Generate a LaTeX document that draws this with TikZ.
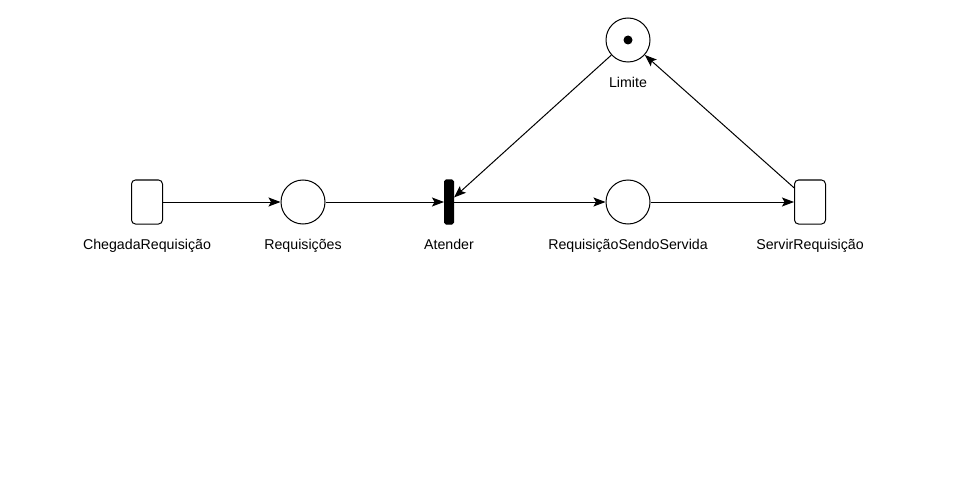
\documentclass[tikz,border=0pt]{standalone}
\usepackage{fontspec}
\setmainfont{Liberation Sans}
\usetikzlibrary{arrows.meta}

\tikzset{
  place/.style={draw, circle, minimum size=44pt, inner sep=0pt},
  trans/.style={draw, rounded corners=4pt, minimum width=31pt, minimum height=44pt, inner sep=0pt},
  bar/.style={draw, fill=black, rounded corners=1.5pt, minimum width=9pt, minimum height=44pt, inner sep=0pt},
  lbl/.style={font=\fontsize{14.2pt}{16pt}\selectfont, anchor=base},
  arc/.style={-{Stealth[length=12pt,width=9pt,inset=2.5pt]}}
}

\begin{document}
\begin{tikzpicture}[x=1pt,y=-1pt,line width=1pt]
    \useasboundingbox[fill=white] (0,0) rectangle (956,500);
    % nodes
    \node[trans] (chegada) at (147,202) {};
    \node[place] (req) at (303,202) {};
    \node[bar] (atender) at (449,202) {};
    \node[place] (servida) at (628,202) {};
    \node[trans] (servir) at (810,202) {};
    \node[place] (limite) at (628,40) {};
    \fill (limite) circle (4.5);
    % labels
    \node[lbl] (lchegada) at (147,249.5) {ChegadaRequisição};
    \node[lbl] (lreq) at (303,249.5) {Requisições};
    \node[lbl] (latender) at (449,249.5) {Atender};
    \node[lbl] (lservida) at (628,249.5) {RequisiçãoSendoServida};
    \node[lbl] (lservir) at (810,249.5) {ServirRequisição};
    \node[lbl] (llimite) at (628,87.5) {Limite};
    % arcs
    \draw[arc] (chegada) -- (req);
    \draw[arc] (req) -- (atender);
    \draw[arc] (atender) -- (servida);
    \draw[arc] (servida) -- (servir);
    \draw[arc] (servir) -- (limite);
    \draw[arc] (limite) -- (atender);
\end{tikzpicture}
\end{document}
